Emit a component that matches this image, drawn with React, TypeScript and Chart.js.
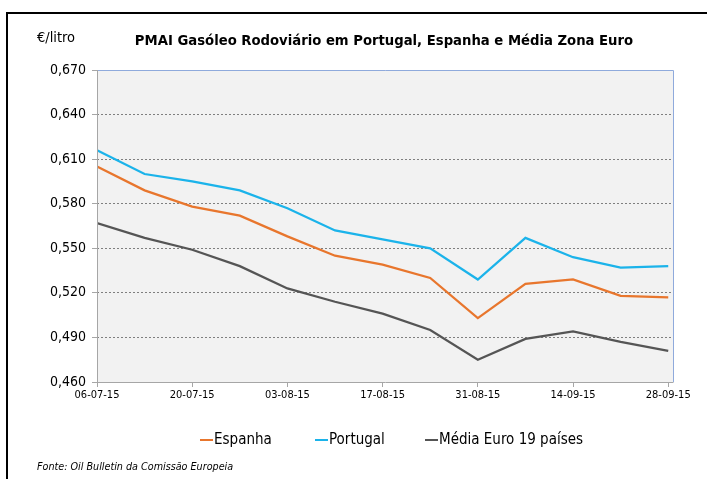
import React, { useEffect, useRef } from "react";
import { Chart, registerables } from "chart.js";

Chart.register(...registerables);

const dates = ["06-07-15", "13-07-15", "20-07-15", "27-07-15", "03-08-15", "10-08-15", "17-08-15", "24-08-15", "31-08-15", "07-09-15", "14-09-15", "21-09-15", "28-09-15"];
const espanha = [0.605, 0.589, 0.578, 0.572, 0.558, 0.545, 0.539, 0.530, 0.503, 0.526, 0.529, 0.518, 0.517];
const portugal = [0.616, 0.600, 0.595, 0.589, 0.577, 0.562, 0.556, 0.550, 0.529, 0.557, 0.544, 0.537, 0.538];
const mediaEuro = [0.567, 0.557, 0.549, 0.538, 0.523, 0.514, 0.506, 0.495, 0.475, 0.489, 0.494, 0.487, 0.481];
const seriesNames = ["Espanha", "Portugal", "Média Euro 19 países"];
const seriesColors = ["#E8762D", "#1BB3EA", "#555555"];
const yTicks = [0.46, 0.49, 0.52, 0.55, 0.58, 0.61, 0.64, 0.67];
const xTickIdx = [0, 2, 4, 6, 8, 10, 12];
const title = "PMAI Gasóleo Rodoviário em Portugal, Espanha e Média Zona Euro";
const unitLabel = "€/litro";
const sourceText = "Fonte: Oil Bulletin da Comissão Europeia";

const FONT = "'Liberation Sans Narrow', 'DejaVu Sans Condensed', Lato, sans-serif";

export default function App() {
  const ref = useRef<HTMLCanvasElement>(null);
  useEffect(() => {
    if (!ref.current) return;
    const allSeries = [espanha, portugal, mediaEuro];
    const decor = {
      id: "decor",
      beforeDraw(chart: any) {
        const { ctx, chartArea: a } = chart;
        ctx.save();
        ctx.fillStyle = "#ffffff";
        ctx.fillRect(0, 0, chart.width, chart.height);
        ctx.fillStyle = "#F2F2F2";
        ctx.fillRect(a.left, a.top, a.right - a.left, a.bottom - a.top);
        ctx.restore();
      },
      afterDatasetsDraw(chart: any) {
        const { ctx, chartArea: a } = chart;
        ctx.save();
        ctx.lineWidth = 1;
        ctx.strokeStyle = "#8FAADC";
        ctx.beginPath();
        ctx.moveTo(a.left, a.top + 0.5);
        ctx.lineTo(a.right + 0.5, a.top + 0.5);
        ctx.lineTo(a.right + 0.5, a.bottom);
        ctx.stroke();
        ctx.strokeStyle = "#A6A6A6";
        ctx.beginPath();
        ctx.moveTo(a.left + 0.5, a.top);
        ctx.lineTo(a.left + 0.5, a.bottom + 0.5);
        ctx.lineTo(a.right + 0.5, a.bottom + 0.5);
        ctx.stroke();
        ctx.fillStyle = "#000000";
        ctx.fillRect(6, 12, 2, chart.height - 12);
        ctx.fillRect(6, 12, chart.width - 6, 2);
        ctx.fillStyle = "#000000";
        ctx.textBaseline = "middle";
        ctx.textAlign = "center";
        ctx.font = "bold 14.7px " + FONT;
        ctx.fillText(title, 384, 41);
        ctx.textAlign = "left";
        ctx.font = "14.5px " + FONT;
        ctx.fillText(unitLabel, 37, 38);
        const items = [
          { x: 200, w: 13 },
          { x: 315, w: 13 },
          { x: 425, w: 13 },
        ];
        ctx.font = "15px " + FONT;
        items.forEach((it, i) => {
          ctx.fillStyle = seriesColors[i];
          ctx.fillRect(it.x, 439, it.w, 2);
          ctx.fillStyle = "#000000";
          ctx.fillText(seriesNames[i], it.x + it.w + 1, 440);
        });
        ctx.font = "italic 10.7px " + FONT;
        ctx.fillText(sourceText, 37, 467);
        ctx.restore();
      },
    };
    const chart = new Chart(ref.current, {
      type: "line",
      data: {
        datasets: allSeries.map((s, i) => ({
          label: seriesNames[i],
          data: s.map((v, j) => ({ x: j, y: v })),
          borderColor: seriesColors[i],
          backgroundColor: seriesColors[i],
          borderWidth: 2.25,
          pointRadius: 0,
          tension: 0,
        })),
      },
      options: {
        responsive: false,
        animation: false,
        layout: { padding: { left: 0, right: 34, top: 70, bottom: 76 } },
        plugins: { legend: { display: false }, title: { display: false }, tooltip: { enabled: false } },
        scales: {
          x: {
            type: "linear",
            min: 0,
            max: 12.1,
            afterBuildTicks: (scale: any) => {
              scale.ticks = xTickIdx.map((v) => ({ value: v }));
            },
            afterFit: (scale: any) => {
              scale.height = 21;
            },
            ticks: {
              autoSkip: false,
              maxRotation: 0,
              padding: 2,
              color: "#000000",
              font: { family: FONT, size: 11 },
              callback: (v: any) => dates[v as number] ?? "",
            },
            grid: { drawOnChartArea: false, drawTicks: true, tickLength: 5, tickColor: "#A6A6A6", color: "#A6A6A6" },
            border: { display: false },
          },
          y: {
            type: "linear",
            min: 0.46,
            max: 0.67,
            afterBuildTicks: (scale: any) => {
              scale.ticks = yTicks.map((v) => ({ value: v }));
            },
            afterFit: (scale: any) => {
              scale.width = 97;
            },
            ticks: {
              padding: 6,
              color: "#000000",
              font: { family: FONT, size: 14 },
              callback: (v: any) => (v as number).toFixed(3).replace(".", ","),
            },
            grid: {
              drawTicks: true,
              tickLength: 5,
              tickColor: "#A6A6A6",
              tickBorderDash: [],
              color: (c: any) => {
                const v = c.tick ? c.tick.value : 0;
                return Math.abs(v - 0.46) < 1e-6 || Math.abs(v - 0.67) < 1e-6 ? "rgba(0,0,0,0)" : "#7F7F7F";
              },
              lineWidth: 1,
            },
            border: { display: false, dash: [2, 2] },
          },
        },
      },
      plugins: [decor],
    });
    return () => chart.destroy();
  }, []);
  return (
    <div style={{ position: "fixed", left: 0, top: 0, width: 707, height: 479 }}>
      <canvas ref={ref} width={707} height={479} style={{ width: 707, height: 479, display: "block" }} />
    </div>
  );
}
